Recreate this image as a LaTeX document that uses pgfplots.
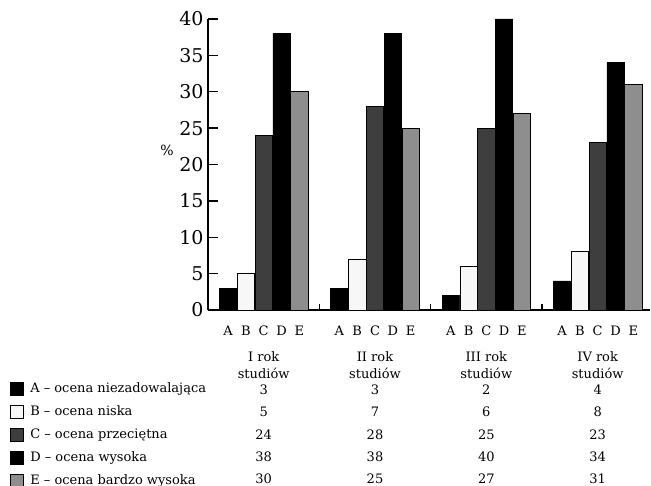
\documentclass[border=0pt]{standalone}
\usepackage{fontspec}
\setmainfont{DejaVu Serif}
\usepackage{pgfplots}
\pgfplotsset{compat=1.18}
\definecolor{cB}{HTML}{F7F7F7}
\definecolor{cC}{HTML}{3E3E3E}
\definecolor{cE}{HTML}{8E8E8E}
\newcommand{\tfont}{\fontsize{13bp}{16.5bp}\selectfont}
\pgfplotsset{legsq/.style={legend image code/.code={\draw[##1, line width=0.6bp] (0bp,-6.5bp) rectangle (13bp,6.5bp);}}}
\begin{document}
\begin{tikzpicture}
\useasboundingbox (0,0) rectangle (651bp,486bp);
\begin{axis}[
  at={(208bp,176bp)}, anchor=south west,
  scale only axis, width=442bp, height=291bp,
  xmin=-0.5, xmax=3.47, ymin=0, ymax=40,
  axis lines=left, axis line style={-, line width=1.4bp},
  tick align=inside,
  major tick length=10bp,
  minor tick length=6bp,
  ytick={0,5,...,40},
  yticklabel style={font=\fontsize{19bp}{21bp}\selectfont, /pgf/number format/assume math mode=true, xshift=-1bp},
  y tick style={line width=1.4bp, black},
  xtick={-0.32,-0.16,0,0.16,0.32,0.68,0.84,1,1.16,1.32,1.68,1.84,2,2.16,2.32,2.68,2.84,3,3.16,3.32},
  xticklabels={A,B,C,D,E,A,B,C,D,E,A,B,C,D,E,A,B,C,D,E},
  xticklabel style={font=\tfont, yshift=-2bp, text height=9.5bp, text depth=0pt},
  major x tick style={draw=none},
  minor xtick={0.5,1.5,2.5},
  minor x tick style={draw=black, line width=1.4bp, yshift=6bp},
  ylabel={\%},
  every axis y label/.style={at={(axis description cs:0,0.548)}, anchor=center, xshift=-41bp, rotate=0, font=\fontsize{14bp}{16bp}\selectfont},
  ybar, bar width=0.155, bar shift=0pt,
  clip=false,
  legend style={at={(axis description cs:-0.448,-0.2474)}, anchor=north west, draw=none, fill=none, inner sep=0pt, font=\tfont, row sep=9.3bp, nodes={inner xsep=6.5bp, inner ysep=0pt, text height=10bp, text depth=3bp}},
  legend cell align=left,
]
\addplot[legsq, fill=black, draw=black, line width=0.6bp] coordinates {(-0.32,3) (0.68,3) (1.68,2) (2.68,4)};
\addplot[legsq, fill=cB, draw=black, line width=0.6bp] coordinates {(-0.16,5) (0.84,7) (1.84,6) (2.84,8)};
\addplot[legsq, fill=cC, draw=black, line width=0.6bp] coordinates {(0,24) (1,28) (2,25) (3,23)};
\addplot[legsq, fill=black, draw=black, line width=0.6bp] coordinates {(0.16,38) (1.16,38) (2.16,40) (3.16,34)};
\addplot[legsq, fill=cE, draw=black, line width=0.6bp] coordinates {(0.32,30) (1.32,25) (2.32,27) (3.32,31)};
\legend{A – ocena niezadowalająca, B – ocena niska, C – ocena przeciętna, D – ocena wysoka, E – ocena bardzo wysoka}
% table below the chart
\node[font=\tfont, align=center] at (axis cs:0,-7.6) {I rok\\studiów};
\node[font=\tfont, align=center] at (axis cs:1,-7.6) {II rok\\studiów};
\node[font=\tfont, align=center] at (axis cs:2,-7.6) {III rok\\studiów};
\node[font=\tfont, align=center] at (axis cs:3,-7.6) {IV rok\\studiów};
\node[font=\tfont] at (axis cs:0,-11.0) {3};
\node[font=\tfont] at (axis cs:0,-14.05) {5};
\node[font=\tfont] at (axis cs:0,-17.1) {24};
\node[font=\tfont] at (axis cs:0,-20.15) {38};
\node[font=\tfont] at (axis cs:0,-23.2) {30};
\node[font=\tfont] at (axis cs:1,-11.0) {3};
\node[font=\tfont] at (axis cs:1,-14.05) {7};
\node[font=\tfont] at (axis cs:1,-17.1) {28};
\node[font=\tfont] at (axis cs:1,-20.15) {38};
\node[font=\tfont] at (axis cs:1,-23.2) {25};
\node[font=\tfont] at (axis cs:2,-11.0) {2};
\node[font=\tfont] at (axis cs:2,-14.05) {6};
\node[font=\tfont] at (axis cs:2,-17.1) {25};
\node[font=\tfont] at (axis cs:2,-20.15) {40};
\node[font=\tfont] at (axis cs:2,-23.2) {27};
\node[font=\tfont] at (axis cs:3,-11.0) {4};
\node[font=\tfont] at (axis cs:3,-14.05) {8};
\node[font=\tfont] at (axis cs:3,-17.1) {23};
\node[font=\tfont] at (axis cs:3,-20.15) {34};
\node[font=\tfont] at (axis cs:3,-23.2) {31};
\end{axis}
\end{tikzpicture}
\end{document}
